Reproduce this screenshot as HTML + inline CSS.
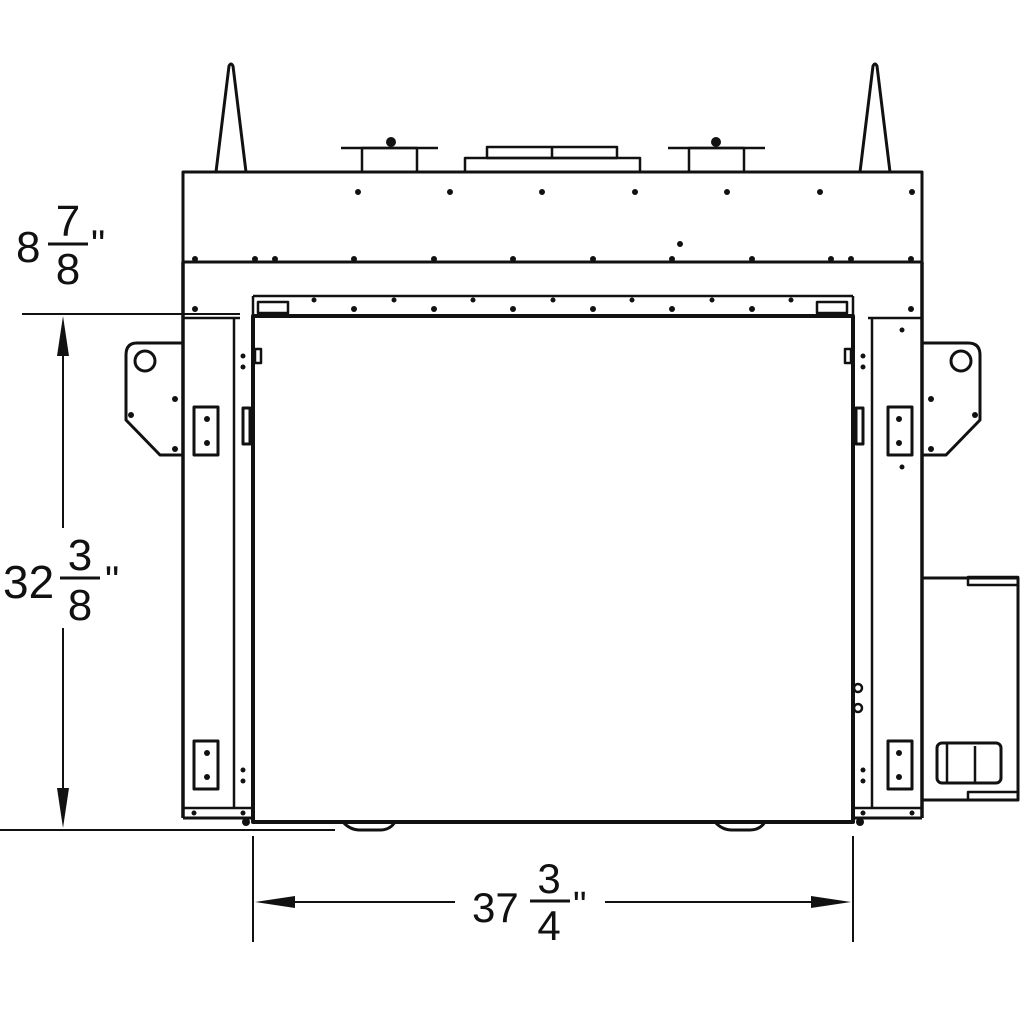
<!DOCTYPE html>
<html><head><meta charset="utf-8"><style>
html,body{margin:0;padding:0;background:#fff;width:1024px;height:1024px;overflow:hidden}
svg{display:block}
text{font-family:"Liberation Sans",sans-serif;fill:#111}
</style></head><body>
<svg width="1024" height="1024" viewBox="0 0 1024 1024" xmlns="http://www.w3.org/2000/svg">
<g fill="none" stroke="#111" stroke-width="2.5" stroke-linejoin="round">
<!-- spikes -->
<path d="M216 172 L229 66 Q231 62 233 66 L246 172" stroke-width="3"/>
<path d="M860 172 L873 66 Q875 62 877 66 L890 172" stroke-width="3"/>
<!-- platforms -->
<line x1="341" y1="148" x2="438" y2="148"/>
<rect x="362" y="148" width="55" height="24"/>
<line x1="668" y1="148" x2="765" y2="148"/>
<rect x="689" y="148" width="55" height="24"/>
<rect x="465" y="158" width="175" height="14"/>
<rect x="487" y="147" width="130" height="11"/>
<line x1="552" y1="147" x2="552" y2="158"/>
<!-- top box -->
<rect x="183" y="172" width="739" height="90" stroke-width="3"/>
<line x1="183" y1="262" x2="183" y2="818" stroke-width="3.5"/>
<line x1="922" y1="262" x2="922" y2="818" stroke-width="3.5"/>
<!-- inner frame -->
<line x1="253" y1="296" x2="853" y2="296"/>
<line x1="253" y1="296" x2="253" y2="316"/>
<line x1="853" y1="296" x2="853" y2="316"/>
<rect x="258" y="302" width="30" height="11"/>
<rect x="817" y="302" width="30" height="11"/>
<rect x="253" y="316" width="600" height="506" stroke-width="4"/>
<!-- side column lines -->
<line x1="183" y1="318" x2="240" y2="318"/>
<line x1="868" y1="318" x2="922" y2="318"/>
<line x1="234" y1="318" x2="234" y2="808"/>
<line x1="872" y1="318" x2="872" y2="808"/>
<line x1="183" y1="808" x2="253" y2="808"/>
<line x1="853" y1="808" x2="922" y2="808"/>
<line x1="183" y1="818" x2="253" y2="818" stroke-width="3"/>
<line x1="853" y1="818" x2="922" y2="818" stroke-width="3"/>
<!-- small tabs -->
<rect x="255" y="349" width="6" height="14"/>
<rect x="845" y="349" width="6" height="14"/>
<rect x="243" y="408" width="7" height="36" stroke-width="3"/>
<rect x="856" y="408" width="7" height="36" stroke-width="3"/>
<!-- brackets boxes -->
<rect x="194" y="407" width="24" height="48" stroke-width="3"/>
<rect x="888" y="407" width="24" height="48" stroke-width="3"/>
<rect x="194" y="741" width="24" height="48" stroke-width="3"/>
<rect x="888" y="741" width="24" height="48" stroke-width="3"/>
<!-- side brackets -->
<path d="M183 343 L137 343 Q126 343 126 355 L126 420 L160 455 L183 455" stroke-width="3"/>
<circle cx="145" cy="361" r="10" stroke-width="3"/>
<path d="M922 343 L968 343 Q980 343 980 355 L980 420 L946 455 L922 455" stroke-width="3"/>
<circle cx="961" cy="361" r="10" stroke-width="3"/>
<!-- right box -->
<path d="M922 578 L968 578 M968 578 L1018 578 L1018 800 L968 800 M922 800 L968 800" stroke-width="3"/>
<rect x="968" y="577" width="50" height="8" stroke-width="2.5"/>
<rect x="968" y="792" width="50" height="8" stroke-width="2.5"/>
<rect x="937" y="743" width="64" height="40" rx="5" stroke-width="3"/>
<line x1="947" y1="743" x2="947" y2="783"/>
<line x1="975" y1="746" x2="975" y2="783"/>
<circle cx="858" cy="688" r="4"/>
<circle cx="858" cy="708" r="4"/>
<!-- bottom feet -->
<path d="M343 822 Q350 830 360 830 L380 830 Q390 830 395 822" stroke-width="3"/>
<path d="M715 822 Q722 830 732 830 L750 830 Q760 830 765 822" stroke-width="3"/>
<!-- dimension lines -->
<line x1="22" y1="314" x2="240" y2="314" stroke-width="2"/>
<line x1="0" y1="830" x2="335" y2="830" stroke-width="2"/>
<line x1="63" y1="330" x2="63" y2="528" stroke-width="2"/>
<line x1="63" y1="628" x2="63" y2="815" stroke-width="2"/>
<line x1="253" y1="836" x2="253" y2="942" stroke-width="2"/>
<line x1="853" y1="836" x2="853" y2="942" stroke-width="2"/>
<line x1="268" y1="902" x2="455" y2="902" stroke-width="2"/>
<line x1="605" y1="902" x2="838" y2="902" stroke-width="2"/>
<!-- fraction bars -->
<line x1="48" y1="244" x2="88" y2="244" stroke-width="3"/>
<line x1="60" y1="578" x2="100" y2="578" stroke-width="3"/>
<line x1="530" y1="901" x2="570" y2="901" stroke-width="3"/>
</g>
<g fill="#111">
<polygon points="63,316 57,356 69,356"/>
<polygon points="63,828 57,788 69,788"/>
<polygon points="255,902 295,896 295,908"/>
<polygon points="851,902 811,896 811,908"/>
<!-- dots top box -->
<circle cx="358" cy="192" r="3"/><circle cx="450" cy="192" r="3"/><circle cx="542" cy="192" r="3"/><circle cx="635" cy="192" r="3"/><circle cx="727" cy="192" r="3"/><circle cx="820" cy="192" r="3"/><circle cx="912" cy="192" r="3"/>
<circle cx="680" cy="244" r="3"/>
<circle cx="195" cy="259" r="3"/><circle cx="255" cy="259" r="3"/><circle cx="275" cy="259" r="3"/><circle cx="354" cy="259" r="3"/><circle cx="434" cy="259" r="3"/><circle cx="513" cy="259" r="3"/><circle cx="593" cy="259" r="3"/><circle cx="672" cy="259" r="3"/><circle cx="752" cy="259" r="3"/><circle cx="831" cy="259" r="3"/><circle cx="851" cy="259" r="3"/><circle cx="911" cy="259" r="3"/>
<circle cx="314" cy="300" r="2.5"/><circle cx="394" cy="300" r="2.5"/><circle cx="473" cy="300" r="2.5"/><circle cx="553" cy="300" r="2.5"/><circle cx="632" cy="300" r="2.5"/><circle cx="712" cy="300" r="2.5"/><circle cx="791" cy="300" r="2.5"/>
<circle cx="195" cy="309" r="3"/><circle cx="354" cy="309" r="3"/><circle cx="434" cy="309" r="3"/><circle cx="513" cy="309" r="3"/><circle cx="593" cy="309" r="3"/><circle cx="672" cy="309" r="3"/><circle cx="752" cy="309" r="3"/><circle cx="911" cy="309" r="3"/>
<circle cx="207" cy="419" r="3"/><circle cx="207" cy="443" r="3"/>
<circle cx="899" cy="419" r="3"/><circle cx="899" cy="443" r="3"/>
<circle cx="207" cy="753" r="3"/><circle cx="207" cy="777" r="3"/>
<circle cx="899" cy="753" r="3"/><circle cx="899" cy="777" r="3"/>
<circle cx="243" cy="356" r="2.5"/><circle cx="243" cy="367" r="2.5"/>
<circle cx="863" cy="356" r="2.5"/><circle cx="863" cy="367" r="2.5"/>
<circle cx="243" cy="770" r="2.5"/><circle cx="243" cy="781" r="2.5"/>
<circle cx="863" cy="770" r="2.5"/><circle cx="863" cy="781" r="2.5"/>
<circle cx="175" cy="399" r="3"/><circle cx="131" cy="415" r="3"/><circle cx="175" cy="449" r="3"/>
<circle cx="931" cy="399" r="3"/><circle cx="975" cy="415" r="3"/><circle cx="931" cy="449" r="3"/>
<circle cx="902" cy="330" r="2.5"/><circle cx="902" cy="467" r="2.5"/>
<circle cx="194" cy="813" r="2.5"/><circle cx="243" cy="813" r="2.5"/>
<circle cx="863" cy="813" r="2.5"/><circle cx="912" cy="813" r="2.5"/>
<circle cx="391" cy="142" r="5"/><circle cx="716" cy="142" r="5"/>
<circle cx="246" cy="822" r="4"/><circle cx="860" cy="822" r="4"/>
</g>
<text x="16" y="262" font-size="44">8</text>
<text x="68" y="236" font-size="44" text-anchor="middle">7</text>
<text x="68" y="284" font-size="44" text-anchor="middle">8</text>
<text x="91" y="258" font-size="40">"</text>
<text x="3" y="598" font-size="46">32</text>
<text x="80" y="570" font-size="44" text-anchor="middle">3</text>
<text x="80" y="620" font-size="44" text-anchor="middle">8</text>
<text x="105" y="594" font-size="40">"</text>
<text x="472" y="922" font-size="42">37</text>
<text x="549" y="893" font-size="42" text-anchor="middle">3</text>
<text x="549" y="940" font-size="42" text-anchor="middle">4</text>
<text x="573" y="918" font-size="38">"</text>
</svg>
</body></html>
